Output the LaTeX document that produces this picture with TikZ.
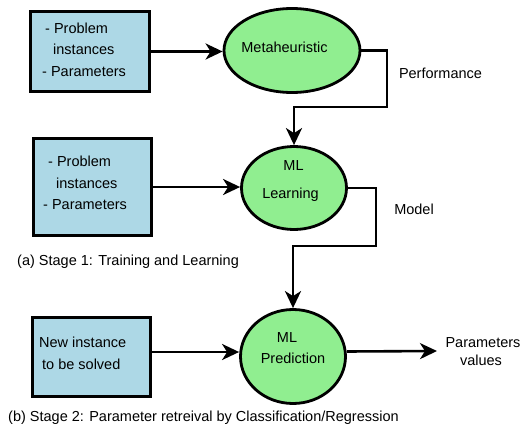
\documentclass[tikz,border=0pt]{standalone}
\usepackage{fontspec}
\setmainfont{Liberation Sans}
\usetikzlibrary{shapes.geometric,arrows.meta}
\definecolor{boxblue}{HTML}{ADD8E6}
\definecolor{ellgreen}{HTML}{90EE90}
\begin{document}
\begin{tikzpicture}[x=1pt,y=-1pt,
  bluebox/.style={draw=black, line width=2.8pt, fill=boxblue, rectangle, inner sep=0pt},
  greenell/.style={draw=black, line width=2.8pt, fill=ellgreen, ellipse, inner sep=0pt},
  txt/.style={inner sep=0pt, font=\fontsize{14.5}{17}\selectfont, text height=10.4pt, text depth=0pt},
  arr/.style={line width=2.6pt, -{Stealth[length=17pt,width=16pt,inset=5pt]}},
  conn/.style={line width=2.6pt}
]
\useasboundingbox (0,0) rectangle (524,425);
% boxes
\node[bluebox, minimum width=119pt, minimum height=80pt] (b1) at (90,51.5) {};
\node[bluebox, minimum width=118pt, minimum height=97pt] (b2) at (92.5,187) {};
\node[bluebox, minimum width=118pt, minimum height=79pt] (b3) at (91.5,357) {};
% ellipses
\node[greenell, minimum width=136pt, minimum height=84pt] (e1) at (292,50.5) {};
\node[greenell, minimum width=105pt, minimum height=83pt] (e2) at (294,188) {};
\node[greenell, minimum width=105pt, minimum height=94pt] (e3) at (293,356.5) {};
% box texts
\node[txt, anchor=west] (t1a) at (45,28) {- Problem};
\node[txt, anchor=west] (t1b) at (53,49) {instances};
\node[txt, anchor=west] (t1c) at (42,71) {- Parameters};
\node[txt, anchor=west] (t2a) at (48,161) {- Problem};
\node[txt, anchor=west] (t2b) at (56,183) {instances};
\node[txt, anchor=west] (t2c) at (43,204) {- Parameters};
\node[txt, anchor=west] (t3a) at (39,342) {New instance};
\node[txt, anchor=west] (t3b) at (42,364) {to be solved};
% ellipse texts
\node[txt] (m1) at (284.5,47) {Metaheuristic};
\node[txt] (m2a) at (293.5,165) {ML};
\node[txt] (m2b) at (290.5,193) {Learning};
\node[txt] (m3a) at (287,337) {ML};
\node[txt] (m3b) at (293,358) {Prediction};
% labels
\node[txt] (perf) at (440.5,73) {Performance};
\node[txt] (model) at (414,209) {Model};
\node[txt] (pv1) at (483,342) {Parameters};
\node[txt] (pv2) at (481,360) {values};
\node[txt, anchor=west] (capa) at (17,260) {(a) Stage 1: Training and Learning};
\node[txt, anchor=west] (capb) at (8,416) {(b) Stage 2: Parameter retreival by Classification/Regression};
% connectors
\coordinate (k1) at (387,107);
\coordinate (k2) at (376,246);
\coordinate (pv) at (437,351);
\draw[arr] (b1.east) -- (b1.east -| e1.west);
\draw[arr] (b2.east) -- (b2.east -| e2.west);
\draw[arr] ([yshift=5pt]b3.east) -- ([yshift=5pt]b3.east -| e3.west);
\draw[arr] (e1.east) -| (k1) -| (e2.north);
\draw[arr] (e2.east) -| (k2) -| (e3.north);
\draw[arr] ([yshift=5pt]e3.east) -- (pv);
\end{tikzpicture}
\end{document}
